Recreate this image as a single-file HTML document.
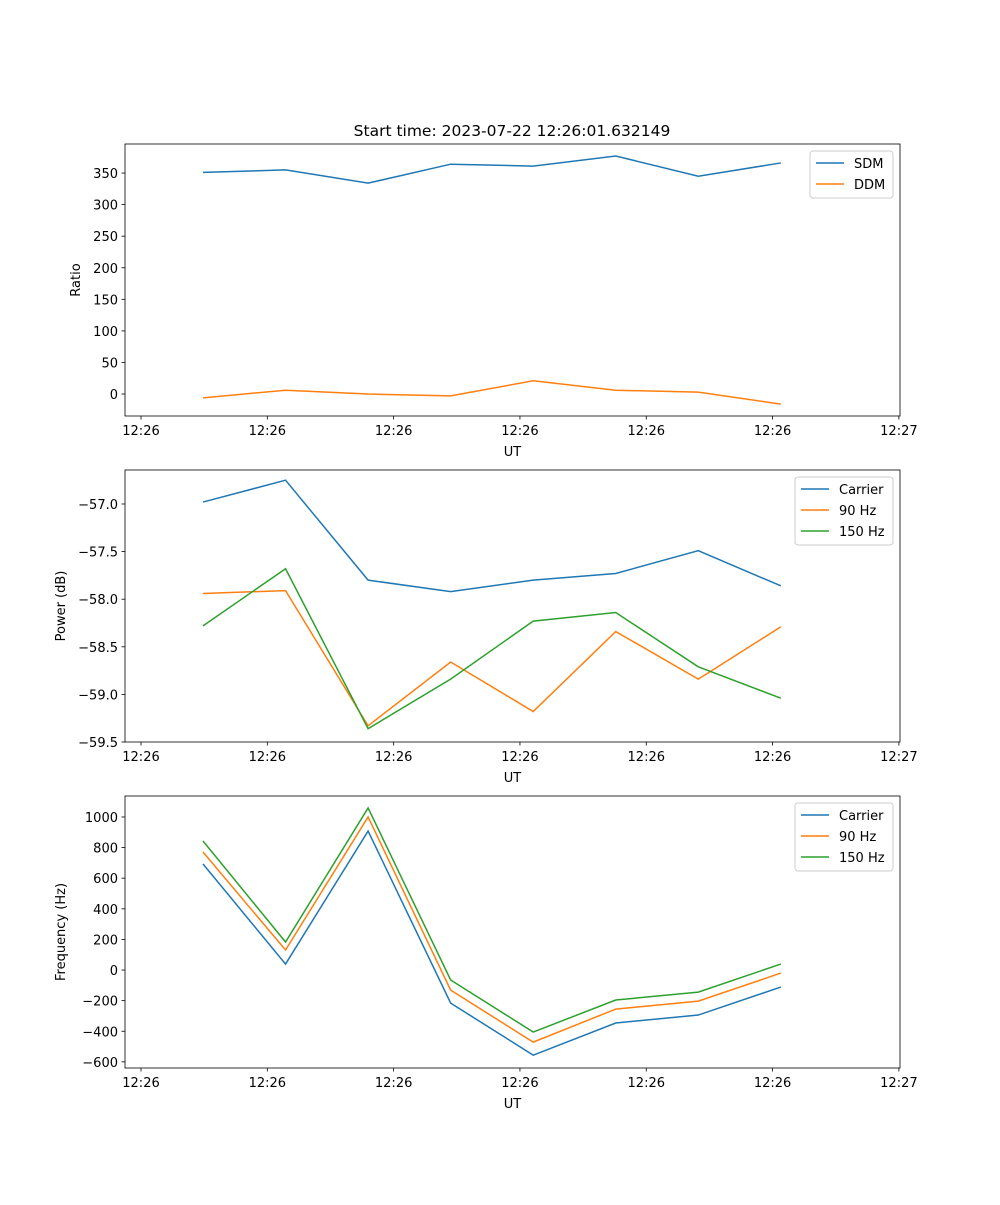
<!DOCTYPE html>
<html><head><meta charset="utf-8"><style>
body{margin:0;background:#fff}
svg text{font-family:"DejaVu Sans","Liberation Sans",sans-serif;fill:#000}
</style></head><body>
<svg id="fig" width="1000" height="1200" xmlns="http://www.w3.org/2000/svg">
<text x="512" y="136" font-size="15.5" text-anchor="middle">Start time: 2023-07-22 12:26:01.632149</text>
</svg>
<script>
const xTickLabels=["12:26","12:26","12:26","12:26","12:26","12:26","12:27"];
const sampleIdx=[0,1,2,3,4,5,6,7];
const sdm=[351,355,334,364,361,377,345,366];
const ddm=[-6,6,0,-3,21,6,3,-16];
const pCarrier=[-56.98,-56.75,-57.80,-57.92,-57.80,-57.73,-57.49,-57.86];
const p90=[-57.94,-57.91,-59.33,-58.66,-59.18,-58.34,-58.84,-58.29];
const p150=[-58.28,-57.68,-59.36,-58.84,-58.23,-58.14,-58.71,-59.04];
const fCarrier=[693,39,908,-216,-556,-346,-294,-111];
const f90=[771,131,1000,-131,-471,-255,-203,-20];
const f150=[843,183,1059,-65,-405,-196,-144,39];
const ratioTicks=[0,50,100,150,200,250,300,350];
const powerTicks=[-59.5,-59.0,-58.5,-58.0,-57.5,-57.0];
const freqTicks=[-600,-400,-200,0,200,400,600,800,1000];

const NS="http://www.w3.org/2000/svg";
const svg=document.getElementById('fig');
const C=['#1f77b4','#ff7f0e','#2ca02c'];
function mk(t,a,p){const e=document.createElementNS(NS,t);for(const k in a)e.setAttribute(k,a[k]);(p||svg).appendChild(e);return e;}
const L=125,R=900,FS=13;
const xDom=[-0.1267,6.0087];
function xs(v){return L+(v-xDom[0])/(xDom[1]-xDom[0])*(R-L);}
function sx(i){return 0.4908+0.6535*i;}
function fmt(v,dec){return (v<0?"\u2212":"")+Math.abs(v).toFixed(dec);}
function panel(name,top,bot,yDom,ticks,dec,ylabel,series,labels,legX,legW){
  const g=mk('g',{});
  
  
  const ys=v=>bot-(v-yDom[0])/(yDom[1]-yDom[0])*(bot-top);
  ticks.forEach(t=>{const y=ys(t);
    mk('line',{x1:L-3.5,x2:L,y1:y,y2:y,stroke:'#000','stroke-width':0.8},g);
    const tx=mk('text',{x:L-7,y:y+5,'font-size':FS,'text-anchor':'end'},g);tx.textContent=fmt(t,dec);
    
    });
  xTickLabels.forEach((l,i)=>{const x=xs(i);
    mk('line',{x1:x,x2:x,y1:bot,y2:bot+3.5,stroke:'#000','stroke-width':0.8},g);
    const tx=mk('text',{x:x,y:bot+19,'font-size':FS,'text-anchor':'middle'},g);tx.textContent=l;
    
    });
  series.forEach((s,k)=>{
    const pl=mk('polyline',{points:s.map((v,i)=>xs(sx(sampleIdx[i]))+','+ys(v)).join(' '),fill:'none',stroke:C[k],'stroke-width':1.5},g);
    
    });
  mk('rect',{x:L,y:top,width:R-L,height:bot-top,fill:'none',stroke:'#000','stroke-width':0.8},g);
  const xl=mk('text',{x:(L+R)/2,y:bot+40,'font-size':FS,'text-anchor':'middle'},g);xl.textContent='UT';
  
  
  const yl=mk('text',{x:0,y:0,'font-size':FS,'text-anchor':'middle',transform:`translate(${name=='ratio'?80:65},${(top+bot)/2}) rotate(-90)`},g);yl.textContent=ylabel;
  
  
  const lg=mk('g',{},g);
  
  
  const ly=top+7;
  mk('rect',{x:legX,y:ly,width:legW,height:labels.length*21+5,rx:3,fill:'#fff',stroke:'#ccc','stroke-width':1},lg);
  labels.forEach((l,k)=>{const y=ly+12+k*21;
    mk('line',{x1:legX+6,x2:legX+34,y1:y,y2:y,stroke:C[k],'stroke-width':1.5},lg);
    const t=mk('text',{x:legX+44,y:y+5,'font-size':FS},lg);t.textContent=l;
    
    });
}
panel('ratio',144,416,[-34.8,396],ratioTicks,0,'Ratio',[sdm,ddm],['SDM','DDM'],810,83);
panel('power',470,742,[-59.5,-56.643],powerTicks,1,'Power (dB)',[pCarrier,p90,p150],['Carrier','90 Hz','150 Hz'],795,98);
panel('frequency',796,1068,[-640,1137],freqTicks,0,'Frequency (Hz)',[fCarrier,f90,f150],['Carrier','90 Hz','150 Hz'],795,98);
</script>
</body></html>
